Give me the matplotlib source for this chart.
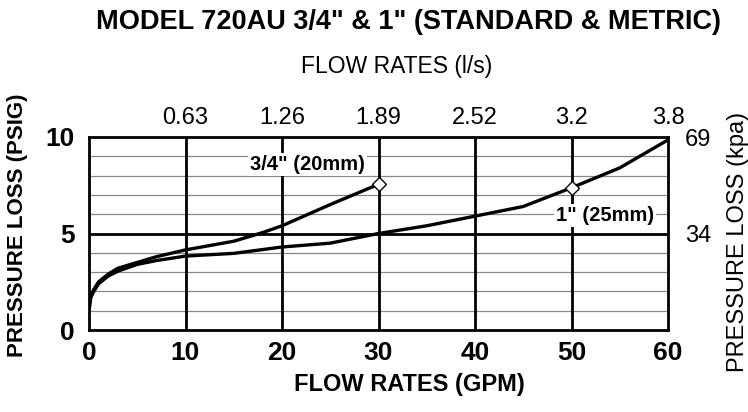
import matplotlib.pyplot as plt

plt.rcParams["font.family"] = ["Liberation Sans", "DejaVu Sans"]

# --- data ---
gpm_34 = [0, 0.2, 0.5, 1, 2, 3, 5, 7, 10, 15, 18, 20, 25, 30]
psi_34 = [1.3, 1.8, 2.1, 2.5, 2.9, 3.2, 3.5, 3.8, 4.15, 4.6, 5.05, 5.4, 6.5, 7.55]

gpm_1 = [0, 0.2, 0.5, 1, 2, 3, 5, 7, 10, 15, 20, 25, 30, 35, 40, 45, 50, 55, 60]
psi_1 = [1.0, 1.7, 2.0, 2.4, 2.8, 3.05, 3.4, 3.6, 3.83, 3.97, 4.3, 4.5, 5.0, 5.4, 5.9, 6.4, 7.37, 8.4, 9.85]

gpm_ticks = [0, 10, 20, 30, 40, 50, 60]
lps_labels = ["0.63", "1.26", "1.89", "2.52", "3.2", "3.8"]
psi_ticks = [0, 5, 10]
kpa_labels = ["34", "69"]

W, H = 748, 412
fig = plt.figure(figsize=(W / 100, H / 100), dpi=100)
ax = fig.add_axes([89 / W, 82 / H, 579 / W, 193 / H])

# grid
for y in range(1, 10):
    if y == 5:
        continue
    ax.axhline(y, color="#888888", lw=0.9, zorder=1)
ax.axhline(5, color="black", lw=2, zorder=1)
for x in gpm_ticks[1:-1]:
    ax.axvline(x, color="black", lw=2, zorder=1)

ax.plot(gpm_34, psi_34, color="black", lw=2.4, zorder=3, solid_capstyle="round")
ax.plot(gpm_1, psi_1, color="black", lw=2.4, zorder=3, solid_capstyle="round")
ax.plot([gpm_34[-1]], [psi_34[-1]], marker="D", ms=7, mfc="white", mec="black", mew=1, zorder=4)
ax.plot([gpm_1[-3]], [psi_1[-3]], marker="D", ms=7, mfc="white", mec="black", mew=1, zorder=4)

ax.text(22.6, 8.55, '3/4" (20mm)', fontsize=14.5, fontweight="bold", ha="center", va="center",
        bbox=dict(facecolor="white", edgecolor="none", pad=1.5), zorder=5)
ax.text(53.5, 5.95, '1" (25mm)', fontsize=14.5, fontweight="bold", ha="center", va="center",
        bbox=dict(facecolor="white", edgecolor="none", pad=1.5), zorder=5)

ax.set_xlim(0, 60)
ax.set_ylim(0, 10)
for s in ax.spines.values():
    s.set_linewidth(2)
ax.set_xticks(gpm_ticks)
ax.set_xticklabels([str(t) for t in gpm_ticks], fontsize=19, fontweight="bold")
ax.set_yticks(psi_ticks)
ax.set_yticklabels([str(t) for t in psi_ticks], fontsize=19, fontweight="bold")
ax.tick_params(axis="x", length=0, pad=8)
ax.tick_params(axis="y", length=0, pad=10)

# top axis (l/s)
axt = ax.twiny()
axt.set_xlim(0, 60)
axt.set_xticks(gpm_ticks[1:])
axt.set_xticklabels(lps_labels, fontsize=17)
axt.tick_params(length=0, pad=6)
for s in axt.spines.values():
    s.set_visible(False)

# right axis (kpa)
axr = ax.twinx()
axr.set_ylim(0, 10)
axr.set_yticks([5, 10])
axr.set_yticklabels(kpa_labels, fontsize=17)
axr.tick_params(length=0, pad=12)
for s in axr.spines.values():
    s.set_visible(False)

fig.text(409 / W, 1 - 22 / H, 'MODEL 720AU 3/4" & 1" (STANDARD & METRIC)', fontsize=19.5,
         fontweight="bold", ha="center", va="center")
fig.text(397 / W, 1 - 66 / H, "FLOW RATES (l/s)", fontsize=16.5, ha="center", va="center")
fig.text(409 / W, 1 - 385 / H, "FLOW RATES (GPM)", fontsize=17, fontweight="bold",
         ha="center", va="center")
fig.text(18 / W, 1 - 225 / H, "PRESSURE LOSS (PSIG)", fontsize=16, fontweight="bold",
         ha="center", va="center", rotation=90)
fig.text(738 / W, 1 - 242 / H, "PRESSURE LOSS (kpa)", fontsize=17, ha="center", va="center",
         rotation=90)

fig.savefig("out.png", dpi=100)
